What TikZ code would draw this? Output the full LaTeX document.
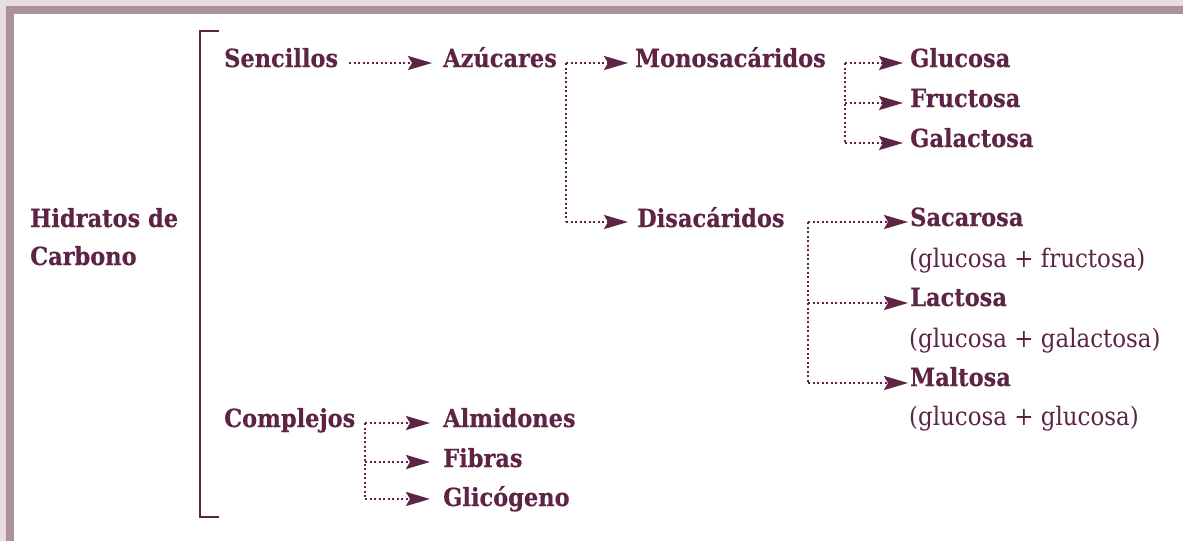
\documentclass[tikz,border=0pt]{standalone}
\usepackage{fontspec}
\newfontfamily\hfont{DejaVu Serif}[FakeStretch=0.9,BoldFeatures={FakeBold=0.3}]
\usetikzlibrary{arrows.meta}
\definecolor{wine}{HTML}{5E2445}
\definecolor{frameA}{HTML}{E8DDDF}
\definecolor{frameB}{HTML}{AE9198}
\begin{document}
\begin{tikzpicture}[x=1pt,y=-1pt,
  lbl/.style={anchor=base west,inner sep=0pt,text=wine,font=\hfont\bfseries\fontsize{25}{29}\selectfont},
  sub/.style={anchor=base west,inner sep=0pt,text=wine,font=\hfont\fontsize{25.5}{29}\selectfont},
  dl/.style={draw=wine,line width=2.3pt,dash pattern=on 2.3pt off 2.2pt},
  arr/.style={dl,-{Stealth[length=24pt,width=14pt,inset=4pt]}}]
\useasboundingbox (0,0) rectangle (1183,541);
\fill[frameA] (0,0) rectangle (1183,541);
\fill[frameB] (6,6) rectangle (1183,541);
\fill[white] (14,14) rectangle (1183,541);
\draw[wine,line width=2.5pt] (219,31) -- (200,31) -- (200,517) -- (219,517);
\node[lbl] (hid) at (30,227) {Hidratos de};
\node[lbl] (car) at (30,265) {Carbono};
\node[lbl] (sen) at (224,67) {Sencillos};
\node[lbl] (com) at (224,427) {Complejos};
\node[lbl] (azu) at (443,67) {Azúcares};
\node[lbl] (alm) at (443,427) {Almidones};
\node[lbl] (fib) at (443,467) {Fibras};
\node[lbl] (gli) at (443,506) {Glicógeno};
\node[lbl] (mon) at (635,67) {Monosacáridos};
\node[lbl] (dis) at (637,227) {Disacáridos};
\node[lbl] (glu) at (910,67) {Glucosa};
\node[lbl] (fru) at (910,107) {Fructosa};
\node[lbl] (gal) at (910,147) {Galactosa};
\node[lbl] (sac) at (910,226) {Sacarosa};
\node[sub] (s1) at (909,267) {(glucosa + fructosa)};
\node[lbl] (lac) at (910,306) {Lactosa};
\node[sub] (s2) at (909,347) {(glucosa + galactosa)};
\node[lbl] (mal) at (910,386) {Maltosa};
\node[sub] (s3) at (909,425) {(glucosa + glucosa)};
% junctions
\coordinate (c1) at (349,63);
\coordinate (c2) at (566,63);
\coordinate (c3) at (566,222);
\coordinate (m1) at (845,63);
\coordinate (m2) at (845,103);
\coordinate (m3) at (845,143);
\coordinate (d1) at (808,222);
\coordinate (d2) at (808,303);
\coordinate (d3) at (808,383);
\coordinate (k1) at (365,423);
\coordinate (k2) at (365,462);
\coordinate (k3) at (365,499);
% connectors
\draw[arr,shorten >=11pt] (c1) -- (c1 -| azu.west);
\draw[dl] (c2) -- (c3);
\draw[arr,shorten >=7pt] (c2) -- (c2 -| mon.west);
\draw[arr,shorten >=9pt] (c3) -- (c3 -| dis.west);
\draw[dl] (m1) -- (m3);
\draw[arr,shorten >=7pt] (m1) -- (m1 -| glu.west);
\draw[arr,shorten >=7pt] (m2) -- (m2 -| fru.west);
\draw[arr,shorten >=7pt] (m3) -- (m3 -| gal.west);
\draw[dl] (d1) -- (d3);
\draw[arr,shorten >=2pt] (d1) -- (d1 -| sac.west);
\draw[arr,shorten >=2pt] (d2) -- (d2 -| lac.west);
\draw[arr,shorten >=2pt] (d3) -- (d3 -| mal.west);
\draw[dl] (k1) -- (k3);
\draw[arr,shorten >=13pt] (k1) -- (k1 -| alm.west);
\draw[arr,shorten >=13pt] (k2) -- (k2 -| fib.west);
\draw[arr,shorten >=13pt] (k3) -- (k3 -| gli.west);
\end{tikzpicture}
\end{document}
